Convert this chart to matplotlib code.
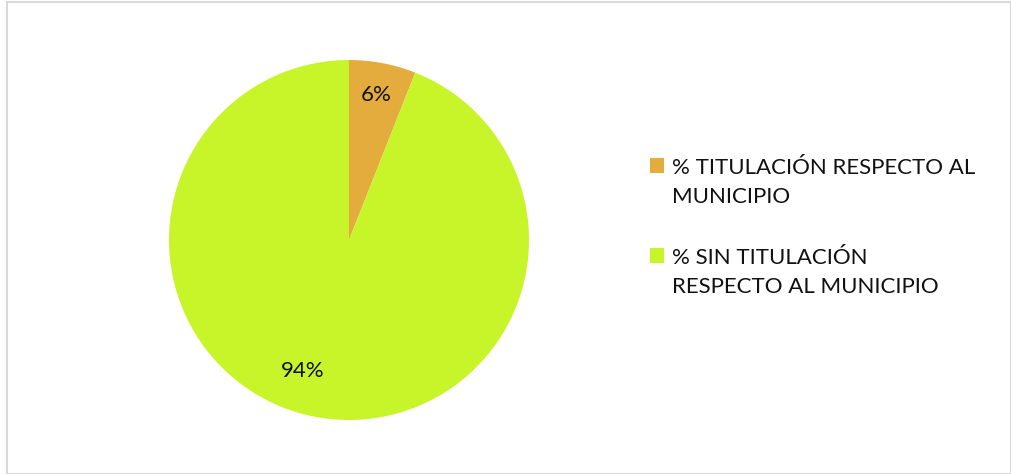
import matplotlib.pyplot as plt
import numpy as np
from matplotlib.patches import Rectangle
from matplotlib.legend_handler import HandlerPatch

labels = ['% TITULACIÓN RESPECTO AL\nMUNICIPIO', '% SIN TITULACIÓN\nRESPECTO AL MUNICIPIO']
values = [6, 94]
colors = ['#E3AC3D', '#C8F42A']

plt.rcParams['font.family'] = ['Lato', 'DejaVu Sans']

fig = plt.figure(figsize=(10.11, 4.74), dpi=100)

# light frame like the spreadsheet chart area
fig.patches.append(Rectangle((7 / 1011, 0), 1 - 7 / 1011, 1 - 1.5 / 474, transform=fig.transFigure,
                             fill=False, edgecolor='#D9D9D9', linewidth=1.5))

W, H = 1011.0, 474.0
cx, cy, r = 349, 240, 180
ax = fig.add_axes([(cx - r) / W, 1 - (cy + r) / H, 2 * r / W, 2 * r / H])

wedges, texts, autotexts = ax.pie(values, colors=colors, startangle=90, counterclock=False,
                                  autopct='%1.0f%%', pctdistance=0.82,
                                  textprops={'fontsize': 16, 'color': '#111111'},
                                  wedgeprops={'linewidth': 0})
# excel puts the big label a bit further round
ang = np.deg2rad(-109.5)
autotexts[1].set_position((0.77 * np.cos(ang), 0.77 * np.sin(ang)))
ax.set_xlim(-1, 1)
ax.set_ylim(-1, 1)
ax.set_aspect('equal')

SHIFT = 17 * 72 / 100.0  # move square up to the first text line, in points


def top_square(legend, orig_handle, xdescent, ydescent, width, height, fontsize):
    # square next to the first line of the label, not the last
    return Rectangle((-xdescent, -ydescent + SHIFT), width, height)


leg = fig.legend(wedges, labels, loc='upper left', bbox_to_anchor=(630 / W, 1 - 138 / H),
                 frameon=False, fontsize=16, handlelength=0.65, handleheight=0.65,
                 handletextpad=0.33, labelspacing=1.85, labelcolor='#111111',
                 handler_map={wedges[0].__class__: HandlerPatch(patch_func=top_square)})
for t in leg.get_texts():
    t.set_linespacing(1.55)

fig.savefig('out.png', dpi=100)
